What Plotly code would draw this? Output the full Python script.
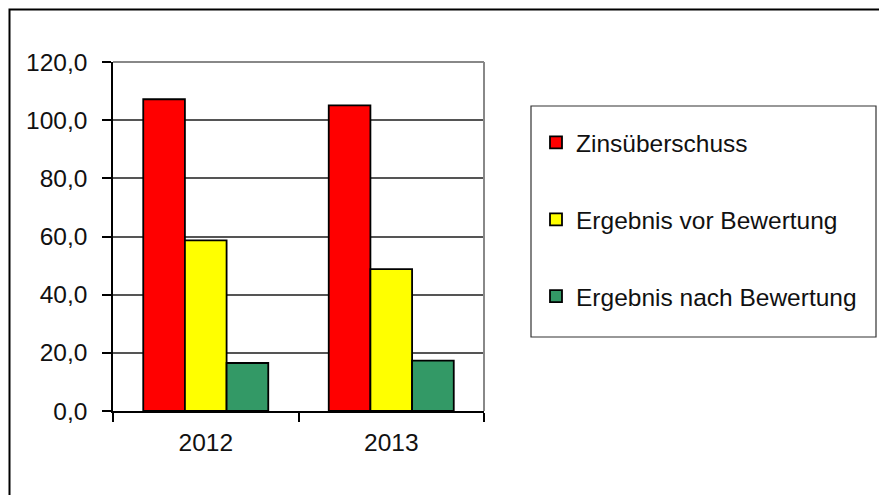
import plotly.graph_objects as go

years = ["2012", "2013"]
series_names = ["Zinsüberschuss", "Ergebnis vor Bewertung", "Ergebnis nach Bewertung"]
zins = [107.2, 105.1]
vor = [58.7, 48.8]
nach = [16.5, 17.3]
colors = ["#FF0000", "#FFFF00", "#339966"]
y_ticks = [0, 20, 40, 60, 80, 100, 120]

W, H = 879, 495
L, R, T, B = 113, 484, 62, 411  # plot area pixel box

def px_x(px):
    return (px - L) / (R - L)

def px_y(py):
    return (B - py) / (B - T)

fig = go.Figure()
for i, (name, vals) in enumerate(zip(series_names, [zins, vor, nach])):
    fig.add_trace(go.Bar(
        x=years, y=vals, name=name, legendgroup=name,
        marker=dict(color=colors[i], line=dict(color="#000000", width=1.8)),
    ))

FONT = "Liberation Sans, Arial, sans-serif"
fig.update_layout(
    width=W, height=H,
    margin=dict(l=L, r=W - R, t=T, b=H - B, pad=0, autoexpand=False),
    paper_bgcolor="white", plot_bgcolor="white",
    separators=",.",
    barmode="group", bargap=0.326, bargroupgap=0,
    font=dict(family=FONT, size=24.5, color="#111111"),
    showlegend=True,
    legend=dict(
        x=px_x(536), xanchor="left", y=px_y(120), yanchor="top",
        bgcolor="rgba(0,0,0,0)", borderwidth=0,
        tracegroupgap=42, font=dict(size=24.5, family=FONT, color="#111111"),
        traceorder="grouped",
    ),
)
fig.update_yaxes(
    range=[0, 120], tickvals=y_ticks, tickformat=".1f",
    showgrid=True, gridcolor="#555555", gridwidth=1.5,
    showline=True, linecolor="#000000", linewidth=1.5,
    ticks="outside", ticklen=9, tickcolor="#000000", tickwidth=1.5,
    ticklabelstandoff=10, zeroline=False, fixedrange=True,
)
fig.update_xaxes(
    showline=True, linecolor="#000000", linewidth=1.5,
    ticks="outside", ticklen=9, tickcolor="#000000", tickwidth=1.5,
    tickson="boundaries", showgrid=False, fixedrange=True,
    ticklabelstandoff=9,
)
# plot area border (top/right) in gray
fig.add_shape(type="line", xref="paper", yref="paper", x0=0, x1=1, y0=1, y1=1,
              line=dict(color="#888888", width=2))
fig.add_shape(type="line", xref="paper", yref="paper", x0=1, x1=1, y0=0, y1=1,
              line=dict(color="#888888", width=2))
# legend box
fig.add_shape(type="rect", xref="paper", yref="paper",
              x0=px_x(531), x1=px_x(876), y0=px_y(337), y1=px_y(106),
              line=dict(color="#333333", width=1.2))
# outer chart frame (top/left visible)
fig.add_shape(type="rect", xref="paper", yref="paper",
              x0=px_x(9.5), x1=px_x(W + 300), y0=px_y(H + 300), y1=px_y(9.5),
              line=dict(color="#000000", width=2))

fig.write_html("out.html")
